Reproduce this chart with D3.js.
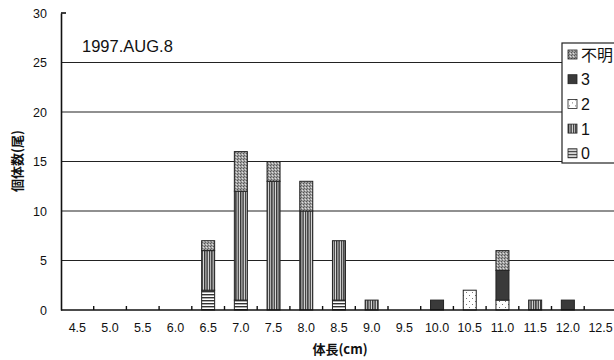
<!DOCTYPE html>
<html>
<head>
<meta charset="utf-8">
<script src="https://cdn.jsdelivr.net/npm/d3@7"></script>
<style>
  html, body { margin: 0; padding: 0; background: #fff; }
  svg { display: block; }
  text { font-family: "Liberation Sans", Arial, "Noto Sans CJK JP", sans-serif; fill: #111; }
  .jp { font-family: "Noto Sans CJK JP", sans-serif; }
</style>
</head>
<body>
<svg id="chart" width="614" height="360"></svg>
<script>
// Body-length classes (cm)
const categories = ["4.5","5.0","5.5","6.0","6.5","7.0","7.5","8.0","8.5","9.0","9.5","10.0","10.5","11.0","11.5","12.0","12.5"];
// Counts per age group, stacked bottom to top
const age0    = [0,0,0,0,2,1,0,0,1,0,0,0,0,0,0,0,0];
const age1    = [0,0,0,0,4,11,13,10,6,1,0,0,0,0,1,0,0];
const age2    = [0,0,0,0,0,0,0,0,0,0,0,0,2,1,0,0,0];
const age3    = [0,0,0,0,0,0,0,0,0,0,0,1,0,3,0,1,0];
const unknown = [0,0,0,0,1,4,2,3,0,0,0,0,0,2,0,0,0];
const seriesNames = ["0","1","2","3","不明"];
const yTicks = [0,5,10,15,20,25,30];

const rows = categories.map((c, i) => ({
  cat: c, "0": age0[i], "1": age1[i], "2": age2[i], "3": age3[i], "不明": unknown[i]
}));

const svg = d3.select("#chart");
const defs = svg.append("defs");

// Fill patterns for each age group
function pat(id, w, h, draw) {
  const p = defs.append("pattern").attr("id", id).attr("patternUnits", "userSpaceOnUse")
    .attr("width", w).attr("height", h);
  draw(p);
}
pat("p0", 4, 3, p => {
  p.append("rect").attr("width", 4).attr("height", 3).attr("fill", "#fff");
  p.append("rect").attr("y", 0).attr("width", 4).attr("height", 1.4).attr("fill", "#333");
});
pat("p1", 2.4, 4, p => {
  p.append("rect").attr("width", 2.4).attr("height", 4).attr("fill", "#e6e6e6");
  p.append("rect").attr("x", 0).attr("width", 1.4).attr("height", 4).attr("fill", "#333");
});
pat("p2", 6, 6, p => {
  p.append("rect").attr("width", 6).attr("height", 6).attr("fill", "#fff");
  p.append("rect").attr("x", 1).attr("y", 1).attr("width", 1).attr("height", 1).attr("fill", "#777");
  p.append("rect").attr("x", 4).attr("y", 4).attr("width", 1).attr("height", 1).attr("fill", "#777");
});
pat("p3", 4, 4, p => {
  p.append("rect").attr("width", 4).attr("height", 4).attr("fill", "#3a3a3a");
});
pat("pu", 3, 3, p => {
  p.append("rect").attr("width", 3).attr("height", 3).attr("fill", "#a0a0a0");
  p.append("rect").attr("x", 0).attr("y", 0).attr("width", 1).attr("height", 1).attr("fill", "#555");
  p.append("rect").attr("x", 2).attr("y", 1).attr("width", 1).attr("height", 1).attr("fill", "#e0e0e0");
  p.append("rect").attr("x", 1).attr("y", 2).attr("width", 1).attr("height", 1).attr("fill", "#666");
});
const fills = { "0": "url(#p0)", "1": "url(#p1)", "2": "url(#p2)", "3": "url(#p3)", "不明": "url(#pu)" };

const x0 = 61, bandW = 32.7;
const x = d3.scaleBand().domain(categories).range([x0, x0 + bandW * categories.length]).padding(0);
const y = d3.scaleLinear().domain([0, 30]).range([310, 13]);
const barW = 13;

// Horizontal gridlines
svg.append("g").selectAll("line").data(yTicks.filter(v => v > 0 && v < 30)).join("line")
  .attr("x1", x0).attr("x2", 614).attr("y1", d => y(d)).attr("y2", d => y(d))
  .attr("stroke", "#222").attr("stroke-width", 1.2);

// Stacked bars
const stack = d3.stack().keys(seriesNames)(rows);
const layers = svg.append("g").selectAll("g").data(stack).join("g")
  .attr("fill", d => fills[d.key]);
layers.selectAll("rect").data(d => d.filter(s => s[1] - s[0] > 0)).join("rect")
  .attr("x", d => x(d.data.cat) + x.bandwidth() / 2 - barW / 2)
  .attr("y", d => y(d[1]))
  .attr("width", barW)
  .attr("height", d => y(d[0]) - y(d[1]))
  .attr("stroke", "#222").attr("stroke-width", 1);

// Y axis
const yAxis = d3.axisLeft(y).tickValues(yTicks).tickSize(0).tickPadding(14);
const gy = svg.append("g").attr("transform", `translate(${x0},0)`).call(yAxis);
gy.select(".domain").attr("stroke", "#111").attr("stroke-width", 1.6);
gy.selectAll("text").attr("font-size", 12.5).attr("fill", "#111");
svg.append("line").attr("x1", x0).attr("x2", x0 + 5).attr("y1", y(30)).attr("y2", y(30))
  .attr("stroke", "#111").attr("stroke-width", 1.6);

// X axis line with boundary ticks
svg.append("line").attr("x1", x0).attr("x2", 614).attr("y1", y(0)).attr("y2", y(0))
  .attr("stroke", "#111").attr("stroke-width", 1.6);
svg.append("g").selectAll("line").data(categories.slice(1)).join("line")
  .attr("x1", d => x(d)).attr("x2", d => x(d))
  .attr("y1", y(0)).attr("y2", y(0) - 4)
  .attr("stroke", "#111").attr("stroke-width", 1.4);
const xAxis = d3.axisBottom(x).tickSize(0).tickPadding(13);
const gx = svg.append("g").attr("transform", `translate(0,${y(0)})`).call(xAxis);
gx.select(".domain").remove();
gx.selectAll("text").attr("font-size", 12.5).attr("fill", "#111");

// Axis titles
svg.append("text").attr("class", "jp").attr("x", 340).attr("y", 354)
  .attr("text-anchor", "middle").attr("font-size", 13).attr("font-weight", "bold").text("体長(cm)");
svg.append("text").attr("class", "jp")
  .attr("transform", "translate(22,161) rotate(-90)")
  .attr("text-anchor", "middle").attr("font-size", 13).attr("font-weight", "bold").text("個体数(尾)");

// Date label
svg.append("text").attr("x", 82).attr("y", 52).attr("font-size", 16.5).text("1997.AUG.8");

// Legend
const lg = svg.append("g");
lg.append("rect").attr("x", 562).attr("y", 43).attr("width", 60).attr("height", 120)
  .attr("fill", "#fff").attr("stroke", "#222").attr("stroke-width", 1.2);
const legendOrder = ["不明","3","2","1","0"];
const li = lg.selectAll("g").data(legendOrder).join("g")
  .attr("transform", (d, i) => `translate(568,${55 + i * 24.7})`);
li.append("rect").attr("x", 0).attr("y", -5).attr("width", 9).attr("height", 9)
  .attr("fill", d => fills[d]).attr("stroke", "#222").attr("stroke-width", 0.8);
li.append("text").attr("class", d => d === "不明" ? "jp" : null)
  .attr("x", 13).attr("y", 5.5).attr("font-size", 16).text(d => d);
</script>
</body>
</html>
